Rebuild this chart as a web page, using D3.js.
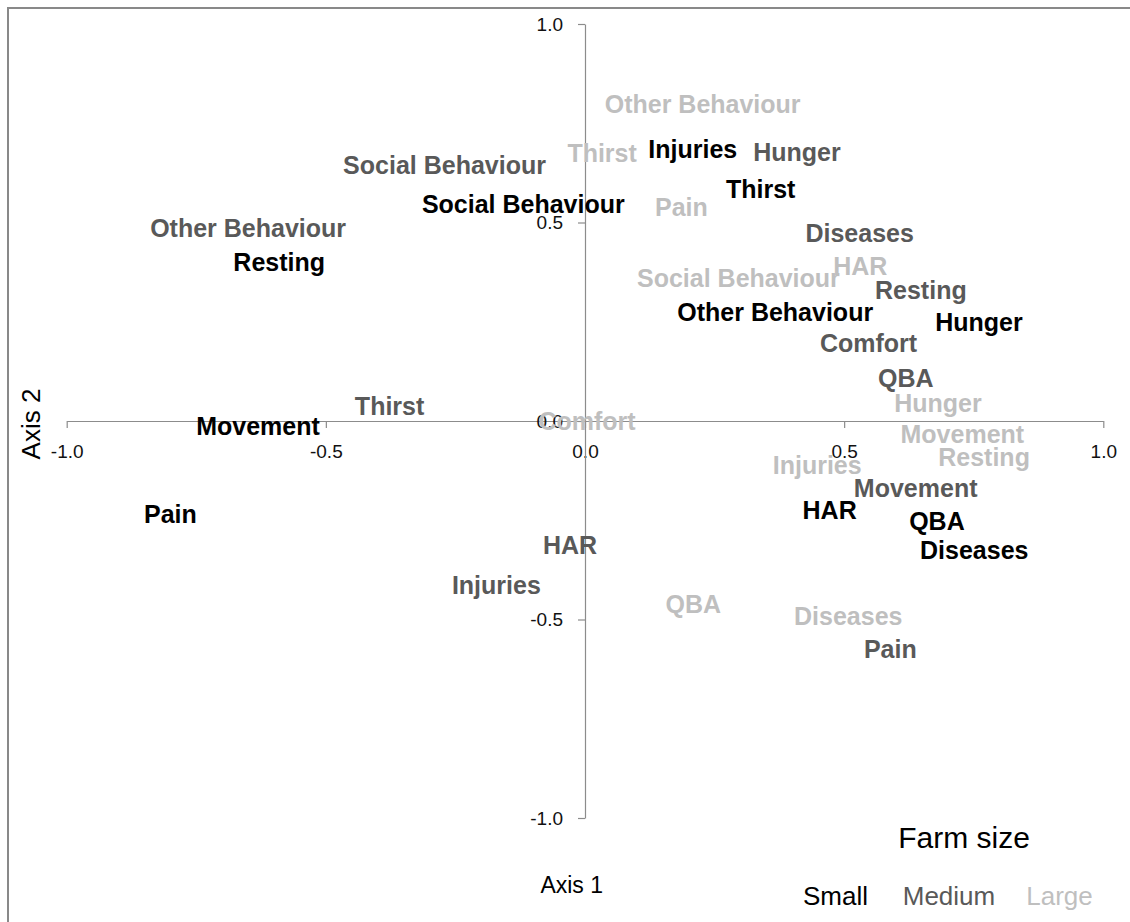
<!DOCTYPE html>
<html>
<head>
<meta charset="utf-8">
<script src="https://cdn.jsdelivr.net/npm/d3@7"></script>
<style>
  html, body { margin: 0; padding: 0; background: #fff; }
  svg { display: block; }
</style>
</head>
<body>
<svg id="chart" width="1130" height="922"></svg>
<script>
// ---------- data ----------
const categories = ["Hunger", "Thirst", "Comfort", "Resting", "Movement", "Injuries",
  "Diseases", "Pain", "Social Behaviour", "Other Behaviour", "QBA", "HAR"];

const seriesNames = ["Small", "Medium", "Large"];

// Axis 1 / Axis 2 coordinates per category (null = not shown)
const smallAxis1  = [0.760, 0.339, null, -0.590, -0.631, 0.208, 0.751, -0.800, -0.119, 0.367, 0.679, 0.472];
const smallAxis2  = [0.250, 0.584, null,  0.401, -0.013, 0.686, -0.325, -0.233, 0.547, 0.275, -0.253, -0.224];

const mediumAxis1 = [0.409, -0.377, 0.547, 0.648, 0.638, -0.171, 0.530, 0.589, -0.271, -0.650, 0.619, -0.029];
const mediumAxis2 = [0.678,  0.038, 0.196, 0.330, -0.168, -0.413, 0.473, -0.574, 0.645, 0.487, 0.108, -0.312];

const largeAxis1  = [0.681, 0.033, 0.004, 0.770, 0.728, 0.448, 0.508, 0.186, 0.296, 0.227, 0.209, 0.531];
const largeAxis2  = [0.045, 0.676, 0.000, -0.090, -0.033, -0.111, -0.491, 0.540, 0.359, 0.798, -0.462, 0.391];

const tickValues = [-1.0, -0.5, 0.0, 0.5, 1.0];
const seriesColors = ["#000000", "#595959", "#BFBFBF"];

// ---------- build ----------
const series = [
  { name: seriesNames[0], color: seriesColors[0], a1: smallAxis1, a2: smallAxis2 },
  { name: seriesNames[1], color: seriesColors[1], a1: mediumAxis1, a2: mediumAxis2 },
  { name: seriesNames[2], color: seriesColors[2], a1: largeAxis1, a2: largeAxis2 }
];

const svg = d3.select("#chart");
const W = 1130, H = 922;

svg.append("rect").attr("width", W).attr("height", H).attr("fill", "#fff");

// chart border (left and top visible)
svg.append("path")
  .attr("d", "M8,922 L8,8 L1130,8")
  .attr("fill", "none")
  .attr("stroke", "#898989")
  .attr("stroke-width", 2);

const x = d3.scaleLinear().domain([-1, 1]).range([66.7, 1103.3]);
const y = d3.scaleLinear().domain([-1, 1]).range([818, 24]);

const fmt = d => d.toFixed(1);
const tickFont = "'Liberation Sans', Arial, sans-serif";

// x axis at y = 0
const gx = svg.append("g")
  .attr("transform", `translate(0,${y(0)})`)
  .call(d3.axisBottom(x).tickValues(tickValues).tickFormat(fmt).tickSize(7).tickSizeOuter(0).tickPadding(17));
// y axis at x = 0
const gy = svg.append("g")
  .attr("transform", `translate(${x(0)},0)`)
  .call(d3.axisLeft(y).tickValues(tickValues).tickFormat(fmt).tickSize(7).tickSizeOuter(0).tickPadding(15));

[gx, gy].forEach(g => {
  g.select(".domain").attr("stroke", "#8c8c8c").attr("stroke-width", 1.2);
  g.selectAll(".tick line").attr("stroke", "#8c8c8c").attr("stroke-width", 1.2);
  g.selectAll(".tick text")
    .attr("fill", "#111")
    .style("font-family", tickFont)
    .style("font-size", "19px");
});

// data labels
const labelsG = svg.append("g");
series.forEach(s => {
  const pts = categories.map((c, i) => ({ cat: c, v1: s.a1[i], v2: s.a2[i] }))
    .filter(d => d.v1 !== null && d.v2 !== null);
  labelsG.append("g")
    .selectAll("text")
    .data(pts)
    .join("text")
    .attr("x", d => x(d.v1))
    .attr("y", d => y(d.v2))
    .attr("dy", "0.36em")
    .attr("text-anchor", "middle")
    .attr("fill", s.color)
    .style("font-family", tickFont)
    .style("font-weight", "bold")
    .style("font-size", "25px")
    .text(d => d.cat);
});

// axis titles
svg.append("text")
  .attr("x", 571.7).attr("y", 884.7).attr("dy", "0.36em")
  .attr("text-anchor", "middle")
  .style("font-family", tickFont).style("font-size", "23px")
  .attr("fill", "#000")
  .text("Axis 1");

svg.append("text")
  .attr("transform", "translate(31,424) rotate(-90)")
  .attr("dy", "0.36em")
  .attr("text-anchor", "middle")
  .style("font-family", tickFont).style("font-size", "26px")
  .attr("fill", "#000")
  .text("Axis 2");

// legend
svg.append("text")
  .attr("x", 964).attr("y", 837).attr("dy", "0.36em")
  .attr("text-anchor", "middle")
  .style("font-family", tickFont).style("font-size", "30px")
  .attr("fill", "#000")
  .text("Farm size");

const legendX = [835.5, 949, 1059.5];
svg.append("g").selectAll("text")
  .data(series)
  .join("text")
  .attr("x", (d, i) => legendX[i])
  .attr("y", 896).attr("dy", "0.36em")
  .attr("text-anchor", "middle")
  .style("font-family", tickFont).style("font-size", "26px")
  .attr("fill", d => d.color)
  .text(d => d.name);
</script>
</body>
</html>
